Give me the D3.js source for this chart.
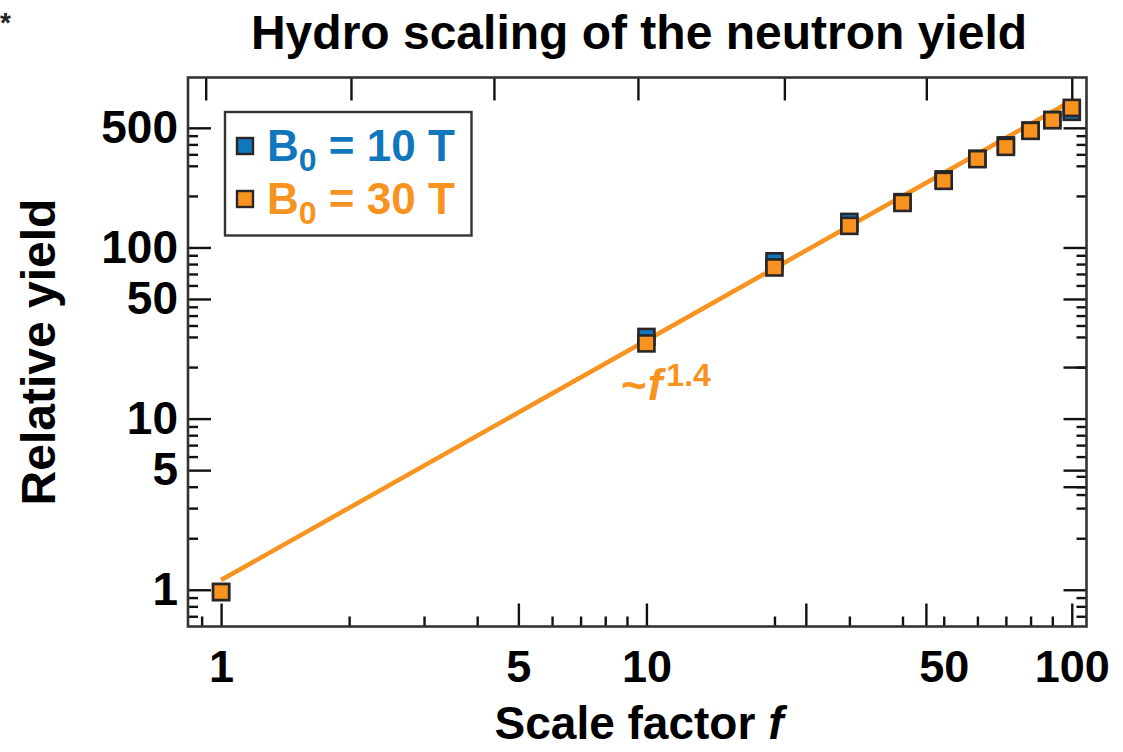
<!DOCTYPE html>
<html>
<head>
<meta charset="utf-8">
<script src="https://cdn.jsdelivr.net/npm/d3@7/dist/d3.min.js"></script>
<style>
  html, body { margin: 0; padding: 0; background: #fff; }
  svg { display: block; font-family: "Liberation Sans", Arial, Helvetica, sans-serif; font-weight: bold; }
</style>
</head>
<body>
<svg id="chart" width="1123" height="752"></svg>
<script>
// Scale factors f and the relative neutron yield for the two seed fields
const scaleFactors = [1, 10, 20, 30, 40, 50, 60, 70, 80, 90, 100];
const yield10T = [0.97, 30, 83, 141, 184, 250, 330, 395, 482, 556, 620];
const yield30T = [0.97, 27.5, 76.4, 133.7, 182, 245, 328, 387, 480, 554, 654];

// Power-law guide ~ f^1.4, given by its two end points
const fitExponent = 1.4;
const fitF = [1, 100];
const fitY = [1.14, 1.14 * Math.pow(100, fitExponent)];

// Axis ticks
const xMajorTicks = [1, 5, 10, 100];
const xMinorTicks = [0.9, 2, 3, 4, 6, 7, 8, 9, 20, 30, 40, 50, 60, 70, 80, 90];
const xExtraTicks = [23.7, 45.4];
const xTickLabels = [1, 5, 10, 50, 100];
const xTopTicks = [0.92, 2.02, 4.38, 9.55, 21.1, 45.5, 100];
const yMajorTicks = [1, 5, 10, 50, 100, 500];
const yMinorTicks = [0.7, 0.8, 0.9, 2, 3, 4, 6, 7, 8, 9, 20, 30, 35, 40, 45, 60, 70, 80, 90, 200, 300, 350, 400, 450];
const yRightExtraMajor = [20, 4];
const yRightExtraMinor = [4.6, 3.6];
const yTickLabels = [1, 5, 10, 50, 100, 500];

const seriesNames = ["10 T", "30 T"];
const colors = { blue: "#1177bd", orange: "#f7931e", edge: "#2a2627", axis: "#111" };

const svg = d3.select("#chart");
const plot = { left: 188, right: 1086.5, top: 77.5, bottom: 626.5 };

const x = d3.scaleLog().domain([0.836, 108.3]).range([plot.left, plot.right]);
const y = d3.scaleLog().domain([0.61, 984]).range([plot.bottom, plot.top]);

// Stray mark in the upper-left corner
svg.append("text").attr("x", 0).attr("y", 32).attr("font-size", 28).attr("fill", "#222").text("*");

// Title
svg.append("text")
  .attr("x", 639).attr("y", 49)
  .attr("text-anchor", "middle")
  .attr("font-size", 48)
  .attr("fill", "#000")
  .text("Hydro scaling of the neutron yield");

// Axis ticks (all pointing into the plot)
const LONG = 23, SHORT = 10;
function tickAxis(axisFn, scale, values, size, translate) {
  const g = svg.append("g")
    .attr("transform", translate)
    .call(axisFn(scale).tickValues(values).tickSize(size).tickFormat(""));
  g.select(".domain").remove();
  g.selectAll(".tick line").attr("stroke", colors.axis).attr("stroke-width", 2.4);
  return g;
}
// bottom
tickAxis(d3.axisBottom, x, xMajorTicks.concat(xExtraTicks), -LONG, `translate(0,${plot.bottom})`);
tickAxis(d3.axisBottom, x, xMinorTicks, -SHORT, `translate(0,${plot.bottom})`);
// top
tickAxis(d3.axisTop, x, xTopTicks, -LONG, `translate(0,${plot.top})`);
// left
tickAxis(d3.axisLeft, y, yMajorTicks, -LONG, `translate(${plot.left},0)`);
tickAxis(d3.axisLeft, y, yMinorTicks, -SHORT, `translate(${plot.left},0)`);
// right
tickAxis(d3.axisRight, y, yMajorTicks.concat(yRightExtraMajor), -LONG, `translate(${plot.right},0)`);
tickAxis(d3.axisRight, y, yMinorTicks.concat(yRightExtraMinor), -SHORT, `translate(${plot.right},0)`);

// Frame
svg.append("rect")
  .attr("x", plot.left).attr("y", plot.top)
  .attr("width", plot.right - plot.left).attr("height", plot.bottom - plot.top)
  .attr("fill", "none").attr("stroke", "#333").attr("stroke-width", 2.6);

// Tick labels
const xl = svg.append("g")
  .attr("transform", `translate(0,${plot.bottom})`)
  .call(d3.axisBottom(x).tickValues(xTickLabels).tickSize(0).tickPadding(24).tickFormat(d3.format("d")));
xl.select(".domain").remove();
xl.selectAll("text").attr("font-size", 45).attr("font-family", null).attr("fill", "#000");

const yl = svg.append("g")
  .attr("transform", `translate(${plot.left},0)`)
  .call(d3.axisLeft(y).tickValues(yTickLabels).tickSize(0).tickPadding(10).tickFormat(d3.format("d")));
yl.select(".domain").remove();
yl.selectAll("text").attr("font-size", 46).attr("font-family", null).attr("fill", "#000");

// Axis titles
const xTitle = svg.append("text")
  .attr("x", 639).attr("y", 739)
  .attr("text-anchor", "middle").attr("font-size", 46).attr("fill", "#000");
xTitle.append("tspan").text("Scale factor ");
xTitle.append("tspan").attr("font-style", "italic").text("f");

svg.append("text")
  .attr("transform", "translate(55,352) rotate(-90)")
  .attr("text-anchor", "middle").attr("font-size", 48).attr("fill", "#000")
  .text("Relative yield");

// Power-law guide
const fitPts = fitF.map((f, i) => [f, fitY[i]]);
svg.append("path")
  .datum(fitPts)
  .attr("d", d3.line().x(d => x(d[0])).y(d => y(d[1])))
  .attr("fill", "none").attr("stroke", colors.orange).attr("stroke-width", 4.5);

// Markers
const side = 16;
function drawSeries(values, fill) {
  svg.append("g").selectAll("rect")
    .data(scaleFactors.map((f, i) => [f, values[i]]))
    .join("rect")
    .attr("x", d => x(d[0]) - side / 2)
    .attr("y", d => y(d[1]) - side / 2)
    .attr("width", side).attr("height", side)
    .attr("fill", fill).attr("stroke", colors.edge).attr("stroke-width", 2.6);
}
drawSeries(yield10T, colors.blue);
drawSeries(yield30T, colors.orange);

// Power-law label
const ann = svg.append("text")
  .attr("x", 621).attr("y", 400)
  .attr("font-size", 44).attr("fill", colors.orange);
ann.append("tspan").text("~");
ann.append("tspan").attr("font-style", "italic").attr("dx", 1).text("f");
ann.append("tspan").attr("font-size", 32).attr("dx", 4).attr("dy", -14).text(fitExponent.toFixed(1));

// Legend
const legend = svg.append("g");
legend.append("rect")
  .attr("x", 225).attr("y", 112).attr("width", 246.5).attr("height", 123.5)
  .attr("fill", "#fff").attr("stroke", "#333").attr("stroke-width", 2.4);
[[colors.blue, seriesNames[0], 146], [colors.orange, seriesNames[1], 199]].forEach(([c, name, cy]) => {
  legend.append("rect")
    .attr("x", 237).attr("y", cy - 8).attr("width", 16).attr("height", 16)
    .attr("fill", c).attr("stroke", colors.edge).attr("stroke-width", 2.4);
  const t = legend.append("text")
    .attr("x", 267).attr("y", cy + 15)
    .attr("font-size", 44).attr("fill", c);
  t.append("tspan").text("B");
  t.append("tspan").attr("font-size", 32).attr("dy", 10).text("0");
  t.append("tspan").attr("dy", -10).text(" = " + name);
});
</script>
</body>
</html>
